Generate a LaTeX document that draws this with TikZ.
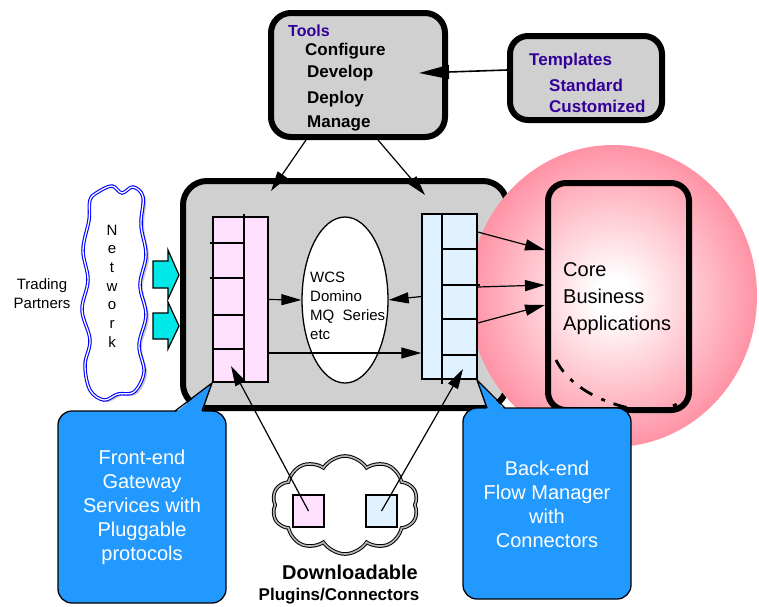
\documentclass[tikz,border=0pt]{standalone}
\usepackage{fontspec}
\setmainfont{Liberation Sans}
\usetikzlibrary{arrows.meta,shapes.geometric,shapes.symbols}
\definecolor{boxgray}{HTML}{D0D0D0}
\definecolor{tpurple}{HTML}{330099}
\definecolor{fpink}{HTML}{FFE0FF}
\definecolor{fblue}{HTML}{E0F2FF}
\definecolor{cyanarr}{HTML}{00E8E8}
\definecolor{callblue}{HTML}{2299FF}
\definecolor{corered}{HTML}{FF6680}
\pgfdeclareradialshading{coreshade}{\pgfpoint{0bp}{0bp}}{color(0bp)=(white);color(3bp)=(white);color(34bp)=(corered);color(50bp)=(corered)}
\tikzset{
  thickbox/.style={draw=black, line width=6pt, fill=boxgray, rounded corners=20pt, inner sep=0pt},
  comp/.style={draw=black, line width=1.3pt, rectangle, inner sep=0pt},
  arr/.style={-{Triangle[length=20pt,width=11pt]}, line width=1.2pt},
  callout/.style={draw=black, line width=1.3pt, fill=callblue},
  calltext/.style={text=white, align=center, font=\fontsize{20}{24}\selectfont},
  tooltxt/.style={anchor=west, inner sep=0pt, font=\fontsize{17}{20}\selectfont\bfseries},
  purp/.style={text=tpurple},
  cyarrow/.style={draw=black, line width=1.2pt, fill=cyanarr}
}
\def\netcloud{plot[smooth cycle, tension=0.6] coordinates {(98,192) (112,186) (122,193) (133,187) (143,197) (141,225) (146,255) (140,285) (146,315) (139,345) (144,372) (134,392) (118,394) (104,400) (90,390) (85,365) (90,340) (82,310) (88,280) (83,250) (89,220) (90,200)}}
\begin{document}
\begin{tikzpicture}[x=1pt,y=-1pt]
\useasboundingbox[fill=white] (0,0) rectangle (759,606);

% trading partners, network, cyan arrows
\node[align=center, inner sep=0pt, font=\fontsize{15}{19}\selectfont] (tp) at (42,294) {Trading\\Partners};
\fill[gray!40, shift={(3,2)}] \netcloud;
\draw[blue, line width=1.1pt, double=white, double distance=1.3pt, fill=white] \netcloud;
\node[align=center, inner sep=0pt, font=\fontsize{15}{18.7}\selectfont] (net) at (112,286) {N\\e\\t\\w\\o\\r\\k};
\path[cyarrow] (153,261)--(168,261)--(168,250)--(179,275)--(168,299)--(168,288)--(153,288)--cycle;
\path[cyarrow] (153,313)--(168,313)--(168,302)--(179,326)--(168,349)--(168,339)--(153,339)--cycle;

% main box
\node[thickbox, rounded corners=24pt, minimum width=324pt, minimum height=227pt] (main) at (345,294.5) {};

% core circle and core box
\shade[shading=coreshade] (613,296) ellipse [x radius=144, y radius=151];
\node[draw=black, line width=6pt, rounded corners=18pt, minimum width=141pt, minimum height=227pt, inner sep=0pt] (core) at (618.5,296.5) {};
\node[anchor=west, align=left, inner sep=0pt, font=\fontsize{20}{27}\selectfont] (coretxt) at (563,299) {Core\\Business\\Applications};
\draw[line width=2.8pt, dash pattern=on 14pt off 10pt on 4pt off 9pt] (556,360) .. controls (572,392) and (615,408) .. (648,411) .. controls (664,410) and (678,405) .. (688,398);

% left component
\node[comp, fill=fpink, minimum width=55pt, minimum height=165pt] (lc) at (240.5,299.5) {};
\draw[line width=1.3pt] (244,214) -- (244,382);
\draw[line width=1.3pt] (210,243) -- (244,243);
\draw[line width=1.3pt] (210,278) -- (244,278);
\draw[line width=1.3pt] (213,315) -- (244,315);
\draw[line width=1.3pt] (213,349) -- (244,349);

% right component
\node[comp, fill=fblue, minimum width=55pt, minimum height=165pt] (rc) at (449.5,296.5) {};
\draw[line width=1.3pt] (442,214) -- (442,384);
\draw[line width=1.3pt] (442,249) -- (477,249);
\draw[line width=1.3pt] (442,285) -- (480,285);
\draw[line width=1.3pt] (442,319) -- (477,319);
\draw[line width=1.3pt] (442,355) -- (477,355);

% ellipse
\node[ellipse, draw=black, line width=1.3pt, fill=white, minimum width=86pt, minimum height=166pt, inner sep=0pt] (ell) at (345,300) {};
\node[anchor=west, align=left, inner sep=0pt, font=\fontsize{15}{19}\selectfont] (elltxt) at (310,306) {WCS\\Domino\\MQ\ \ Series\\etc};

% internal arrows
\draw[arr] (lc.east) -- (ell.west);
\draw[arr] (rc.west) -- (ell.east);
\draw[arr] ([yshift=-53.5pt]lc.east) -- ([yshift=-56.5pt]rc.west);

% arrows to core
\draw[arr] ([yshift=64.5pt]rc.east) -- ([yshift=46.5pt]core.west);
\draw[arr] ([yshift=9.5pt]rc.east) -- ([yshift=11.5pt]core.west);
\draw[arr] ([yshift=-26.5pt]rc.east) -- ([yshift=-8.5pt]core.west);

% callouts
\node[callout, rounded corners=14pt, minimum width=168pt, minimum height=192pt, inner sep=0pt] (lco) at (142,507) {};
\fill[callblue] (175,413) -- (212,383) -- (202,413) -- cycle;
\draw[line width=1.3pt] (175,411) -- (212,383) -- (202,411);
\node[calltext] (lcot) at (142,507) {Front-end\\Gateway\\Services with\\Pluggable\\protocols};

\node[callout, rounded corners=14pt, minimum width=168pt, minimum height=191pt, inner sep=0pt] (rco) at (547,503.5) {};
\fill[callblue] (487,410) -- (477,380) -- (505,410) -- cycle;
\draw[line width=1.3pt] (487,408) -- (477,380) -- (505,408);
\node[calltext] (rcot) at (547,504) {Back-end\\Flow Manager\\with\\Connectors};

% bottom cloud
\node[cloud, cloud puffs=10, cloud puff arc=115, aspect=1.6, minimum width=146pt, minimum height=98pt, draw=black, line width=1pt, double=gray!55, double distance=1.6pt, fill=white] (cl) at (345,505) {};
\node[comp, line width=1.2pt, fill=fpink, minimum width=31pt, minimum height=32pt] (sq1) at (308.5,511) {};
\node[comp, line width=1.2pt, fill=fblue, minimum width=31pt, minimum height=32pt] (sq2) at (381.5,511) {};
\coordinate (tip1) at (231,366);
\coordinate (tip2) at (463,369);
\draw[arr] (sq1.center) -- (tip1);
\draw[arr] (sq2.center) -- (tip2);
\node[inner sep=0pt, font=\fontsize{20}{22}\selectfont\bfseries] (dl) at (350,572) {Downloadable};
\node[inner sep=0pt, font=\fontsize{17}{20}\selectfont\bfseries] (pc) at (339,596) {Plugins/Connectors};

% tools and templates
\node[thickbox, minimum width=174pt, minimum height=124pt] (tools) at (358,75) {};
\node[tooltxt, purp, font=\fontsize{16}{19}\selectfont\bfseries] (t0) at (288,31) {Tools};
\node[tooltxt] (t1) at (305,51) {Configure};
\node[tooltxt] (t2) at (307,73) {Develop};
\node[tooltxt] (t3) at (307,99) {Deploy};
\node[tooltxt] (t4) at (307,123) {Manage};

\node[thickbox, rounded corners=18pt, minimum width=152pt, minimum height=84pt] (tmpl) at (586,78) {};
\node[tooltxt, purp] (p0) at (529,61) {Templates};
\node[tooltxt, purp] (p1) at (549,85) {Standard};
\node[tooltxt, purp] (p2) at (549,106) {Customized};

\coordinate (devtip) at (419,73);
\draw[-{Triangle[length=30pt,width=14pt]}, line width=1.6pt] ([yshift=8pt]tmpl.west) -- (devtip);

\coordinate (m1) at (271,191);
\coordinate (m2) at (425,195);
\draw[arr] ([xshift=-52pt]tools.south) -- (m1);
\draw[arr] ([xshift=20pt]tools.south) -- (m2);
\end{tikzpicture}
\end{document}
